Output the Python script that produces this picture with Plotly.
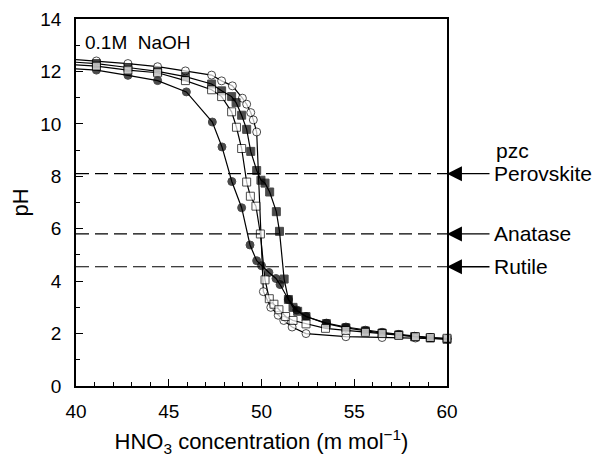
import plotly.graph_objects as go

# ---- data ----
fc_x = [40, 41.1, 42.8, 44.4, 45.95, 47.35, 47.87, 48.4, 48.93, 49.38, 49.74, 50.0, 50.4, 50.78, 51.0, 51.45, 51.9, 52.4, 53.5, 54.55, 55.6, 56.5, 57.4, 58.25, 59.1, 60]
fc_y = [12.1, 12.05, 11.85, 11.65, 11.22, 10.07, 9.12, 7.8, 6.8, 5.38, 4.78, 4.59, 4.33, 4.1, 3.87, 3.3, 2.9, 2.65, 2.4, 2.25, 2.13, 2.05, 1.97, 1.9, 1.85, 1.8]

oc_x = [40, 41.1, 42.8, 44.4, 45.9, 47.31, 47.85, 48.43, 48.97, 49.2, 49.42, 49.56, 49.74, 50.1, 50.5, 50.9, 51.2, 51.65, 52.4, 54.55, 56.5, 58.3, 60]
oc_y = [12.45, 12.4, 12.3, 12.18, 12.02, 11.86, 11.64, 11.45, 10.98, 10.75, 10.43, 10.15, 9.69, 3.6, 3.0, 2.7, 2.5, 2.25, 2.0, 1.88, 1.85, 1.83, 1.8]

fs_x = [40, 41.1, 42.8, 44.4, 45.9, 47.31, 47.85, 48.39, 48.63, 48.93, 49.2, 49.42, 49.74, 49.97, 50.19, 50.44, 50.8, 50.97, 51.22, 51.45, 51.7, 51.95, 52.4, 53.5, 54.55, 55.6, 56.5, 57.4, 58.25, 59.1, 60]
fs_y = [12.35, 12.3, 12.15, 12.0, 11.8, 11.52, 11.26, 11.04, 10.81, 10.33, 9.79, 8.95, 8.22, 7.85, 7.74, 7.4, 6.65, 5.9, 4.08, 3.3, 3.0, 2.85, 2.65, 2.38, 2.22, 2.1, 2.02, 1.95, 1.88, 1.83, 1.78]

os_x = [40, 41.1, 42.8, 44.4, 45.9, 47.31, 47.85, 48.39, 48.65, 48.93, 49.2, 49.4, 49.7, 49.94, 50.19, 50.42, 50.67, 50.94, 51.3, 51.7, 52.4, 53.45, 54.55, 55.6, 56.5, 57.4, 58.3, 59.1, 60]
os_y = [12.25, 12.2, 12.05, 11.95, 11.65, 11.3, 11.04, 10.46, 9.87, 9.06, 7.78, 7.24, 6.86, 5.8, 4.05, 3.33, 3.12, 2.91, 2.65, 2.5, 2.37, 2.2, 2.12, 2.05, 2.0, 1.93, 1.88, 1.85, 1.82]

pzc_names = ["Perovskite", "Anatase", "Rutile"]
pzc_values = [8.1, 5.8, 4.55]

x_ticks = [40, 45, 50, 55, 60]
y_ticks = [0, 2, 4, 6, 8, 10, 12, 14]

FONT = "Liberation Sans, Arial, sans-serif"

fig = go.Figure()

series = [
    (fc_x, fc_y, "circle", "black"),
    (oc_x, oc_y, "circle", "white"),
    (fs_x, fs_y, "square", "black"),
    (os_x, os_y, "square", "white"),
]
for xs, ys, sym, fill in series:
    sizes = [0] + [8] * (len(xs) - 1)
    fig.add_trace(go.Scatter(
        x=xs, y=ys, mode="lines+markers",
        line=dict(color="black", width=1.2),
        marker=dict(symbol=sym, size=sizes, color=fill,
                    line=dict(color="black", width=1)),
        showlegend=False, cliponaxis=False,
    ))

for name, v in zip(pzc_names, pzc_values):
    fig.add_shape(type="line", xref="x", yref="y", x0=40, x1=60, y0=v, y1=v,
                  line=dict(color="black", width=1.2, dash="13px,6px"))
    fig.add_annotation(x=60, y=v, xref="x", yref="y", ax=44, ay=0,
                       axref="pixel", ayref="pixel", showarrow=True,
                       arrowhead=2, arrowsize=2.3, arrowwidth=1.3, arrowcolor="black",
                       text="")
    fig.add_annotation(x=1.122, y=v, xref="paper", yref="y", text=name,
                       showarrow=False, xanchor="left", yanchor="middle",
                       font=dict(family=FONT, size=21, color="black"))

fig.add_annotation(x=1.126, y=9.0, xref="paper", yref="y", text="pzc",
                   showarrow=False, xanchor="left", yanchor="middle",
                   font=dict(family=FONT, size=21, color="black"))
fig.add_annotation(x=0.02, y=13.1, xref="paper", yref="y", text="0.1M  NaOH",
                   showarrow=False, xanchor="left", yanchor="middle",
                   font=dict(family=FONT, size=19, color="black"))

axis_common = dict(
    showgrid=False, zeroline=False, showline=True, linecolor="black", linewidth=1.5,
    mirror=True, ticks="inside", ticklen=7, tickwidth=1.2, tickcolor="black",
    tickfont=dict(family=FONT, size=19, color="black"), automargin=False,
)
fig.update_xaxes(range=[40, 60], tickvals=x_ticks, ticklabelstandoff=7,
                 minor=dict(dtick=1, ticks="inside", ticklen=4, tickcolor="black", tickwidth=1),
                 title=dict(text="HNO<sub>3</sub> concentration (m mol<sup>−1</sup>)",
                            font=dict(family=FONT, size=22, color="black"), standoff=14),
                 **axis_common)
fig.update_yaxes(range=[0, 14], tickvals=y_ticks, ticklabelstandoff=9,
                 minor=dict(dtick=1, ticks="inside", ticklen=4, tickcolor="black", tickwidth=1),
                 title=dict(text="pH", font=dict(family=FONT, size=22, color="black"), standoff=20),
                 **axis_common)

# The page body adds an 8 px offset, so the figure is sized to fit the window.
fig.update_layout(
    width=592, height=449,
    margin=dict(l=68, r=153, t=11, b=71),
    paper_bgcolor="white", plot_bgcolor="white",
)

fig.write_html("out.html")
